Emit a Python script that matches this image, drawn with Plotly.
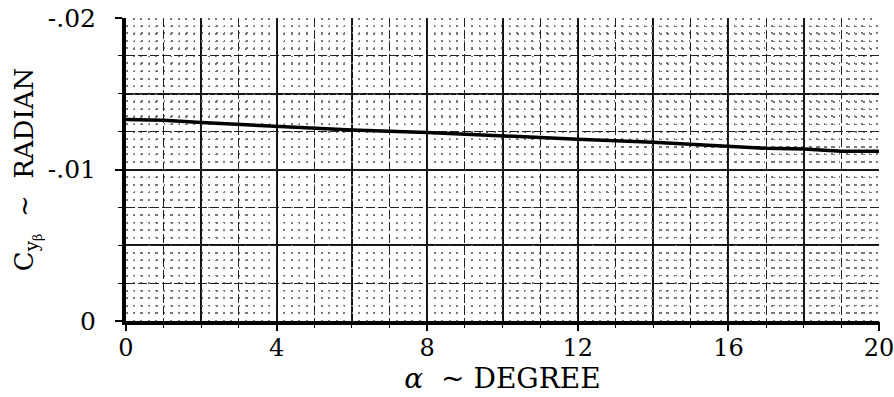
import plotly.graph_objects as go

# Data
alpha_deg = [0, 1, 2, 4, 6, 8, 10, 12, 14, 16, 17, 18, 19, 20]
cy_beta = [-0.0133, -0.01325, -0.0131, -0.01285, -0.0126, -0.01245, -0.0122,
           -0.0120, -0.0118, -0.01155, -0.0114, -0.01135, -0.0112, -0.0112]

x_tickvals = [0, 4, 8, 12, 16, 20]
x_ticktext = ["0", "4", "8", "12", "16", "20"]
y_tickvals = [0, -0.01, -0.02]
y_ticktext = ["0", "-.01", "-.02"]

XR = [0, 20]
YR = [0, -0.02]
FONT = "DejaVu Serif"

fig = go.Figure()
fig.add_trace(go.Scatter(x=alpha_deg, y=cy_beta, mode="lines",
                         line=dict(color="black", width=3.5), showlegend=False,
                         hoverinfo="skip"))
# invisible trace carrying the overlay grid axes
fig.add_trace(go.Scatter(x=[0], y=[0], xaxis="x2", yaxis="y2", mode="markers",
                         marker=dict(opacity=0), showlegend=False, hoverinfo="skip"))

fig.update_layout(
    width=894, height=397,
    margin=dict(l=126, r=15, t=18, b=76),
    paper_bgcolor="white", plot_bgcolor="white",
    font=dict(family=FONT, size=24, color="black"),
    xaxis=dict(
        range=XR, tickmode="array", tickvals=x_tickvals, ticktext=x_ticktext,
        ticks="outside", ticklen=6, tickcolor="black", tickwidth=1.5,
        showgrid=True, gridcolor="#111", gridwidth=1.6,
        minor=dict(dtick=2, tick0=0, showgrid=True, gridcolor="#111", gridwidth=1.6, ticks=""),
        showline=True, linecolor="black", linewidth=4, zeroline=False,
        tickfont=dict(family=FONT, size=24, color="black"), ticklabelstandoff=-4,
        ticklabeloverflow="allow", automargin=False,
        title=dict(text="<i>α</i>  ~ DEGREE", font=dict(family=FONT, size=28, color="black"), standoff=6),
    ),
    xaxis2=dict(
        range=XR, overlaying="x", anchor="y", side="bottom",
        tickmode="linear", tick0=0, dtick=1, showticklabels=False,
        ticks="outside", ticklen=6, tickcolor="black", tickwidth=1.2,
        showgrid=True, gridcolor="#222", gridwidth=1.2, griddash="9px,3px",
        minor=dict(dtick=0.2, tick0=0, showgrid=True, gridcolor="#777", gridwidth=1.5,
                   griddash="1.5px,6.05px", ticks=""),
        showline=False, zeroline=False, automargin=False,
    ),
    yaxis=dict(
        range=YR, tickmode="array", tickvals=y_tickvals, ticktext=y_ticktext,
        ticks="outside", ticklen=7, tickcolor="black", tickwidth=1.5,
        showgrid=True, gridcolor="#111", gridwidth=1.6,
        minor=dict(dtick=0.005, tick0=0, showgrid=True, gridcolor="#111", gridwidth=1.6, ticks=""),
        showline=True, linecolor="black", linewidth=4, zeroline=False,
        tickfont=dict(family=FONT, size=25, color="black"), ticklabelstandoff=14,
        ticklabeloverflow="allow", automargin=False,
        title=dict(text="C<sub>y<sub>β</sub></sub>  ~  RADIAN",
                   font=dict(family=FONT, size=26, color="black"), standoff=8),
    ),
    yaxis2=dict(
        range=YR, overlaying="y", anchor="x", side="left",
        tickmode="linear", tick0=0, dtick=0.0025, showticklabels=False,
        ticks="outside", ticklen=7, tickcolor="black", tickwidth=1.2,
        showgrid=True, gridcolor="#222", gridwidth=1.2, griddash="9px,3px",
        minor=dict(dtick=0.0005, tick0=0, showgrid=True, gridcolor="#777", gridwidth=1.5,
                   griddash="1.5px,6px", ticks=""),
        showline=False, zeroline=False, automargin=False,
    ),
)

fig.write_html("out.html")
